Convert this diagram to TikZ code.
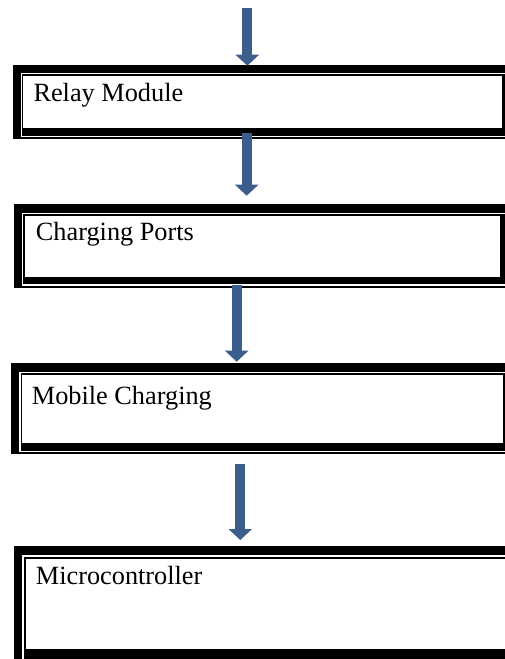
\documentclass[tikz,border=0pt]{standalone}
\usepackage{fontspec}
\setmainfont{Liberation Serif}
\usetikzlibrary{arrows.meta}
\definecolor{arrblue}{RGB}{59,94,141}
\tikzset{
  blockarrow/.style={draw=arrblue, line width=10pt, line cap=butt,
    -{Triangle[width=23pt,length=11pt]}},
  lbl/.style={anchor=base west, inner sep=0pt, font=\fontsize{26.3}{30}\selectfont}
}
% \framebox args: left, top, white-line-left, white-line-top, white-line-bottom,
% thin-left, thin-top, thin-bottom, int-left, int-top, int-right, int-bottom, outer-bottom
\newcommand{\dblframe}[9]{%
  \fill[black] (#1,#2) rectangle (530,#9);
  \fill[white] (#3,#4) rectangle (530,#5);
  \fill[black] (#6,#7) rectangle (530,#8);
}
\begin{document}
\begin{tikzpicture}[x=1pt,y=-1pt]
\useasboundingbox (0,0) rectangle (505,659);
\clip (0,0) rectangle (505,659);
% Box 1
\dblframe{13}{64.5}{20.7}{73.3}{137.3}{22}{74.3}{136}{139.3}
\fill[white] (23.3,75.7) rectangle (502.3,128.3);
% Box 2
\dblframe{14}{204.2}{22}{212.5}{285.7}{23.3}{214}{284.3}{288.3}
\fill[white] (24.7,215.7) rectangle (500,276.7);
% Box 3
\dblframe{11}{362.7}{19}{371.7}{452}{20.7}{373.3}{450.7}{454}
\fill[white] (22.3,375) rectangle (503.3,442.7);
% Box 4
\dblframe{14}{545.8}{22}{555}{672}{24}{556.7}{670}{675}
\fill[white] (26.3,558.5) rectangle (520,649.3);
% Labels
\node[lbl] (relay) at (33.3,101.7) {Relay Module};
\node[lbl] (ports) at (35.7,240) {Charging Ports};
\node[lbl] (mobile) at (31.7,404) {Mobile Charging};
\node[lbl] (micro) at (35.7,584) {Microcontroller};
% Arrow coordinates
\coordinate (a1s) at (247.3,8.3);
\coordinate (a1t) at (247.3,65.7);
\coordinate (a2s) at (246.7,133);
\coordinate (a2t) at (246.7,195.7);
\coordinate (a3s) at (236.7,285);
\coordinate (a3t) at (236.7,361.7);
\coordinate (a4s) at (240.3,464);
\coordinate (a4t) at (240.3,540);
\draw[blockarrow] (a1s) -- (a1t);
\draw[blockarrow] (a2s) -- (a2t);
\draw[blockarrow] (a3s) -- (a3t);
\draw[blockarrow] (a4s) -- (a4t);
\end{tikzpicture}
\end{document}
